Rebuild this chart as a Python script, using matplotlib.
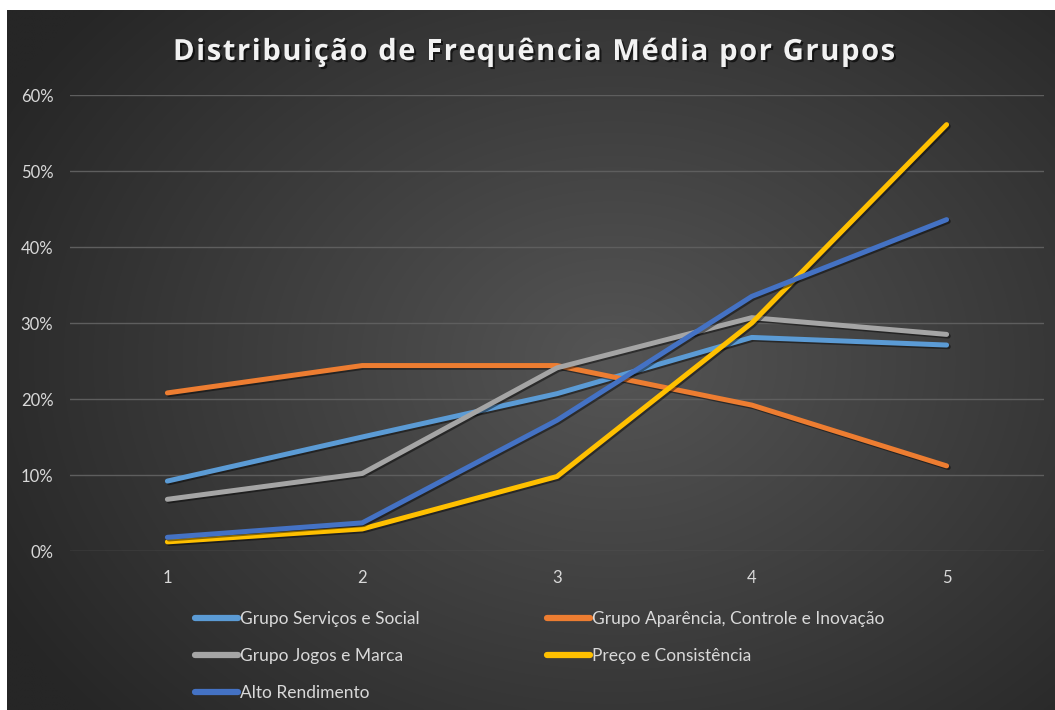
import numpy as np
import matplotlib
matplotlib.use('Agg')
import matplotlib.pyplot as plt
import matplotlib.patheffects as pe

plt.rcParams['font.family'] = ['Lato', 'DejaVu Sans']

# ------------------------------------------------------------
# Data
# ------------------------------------------------------------
categories = [1, 2, 3, 4, 5]
servicos = [0.092, 0.150, 0.207, 0.281, 0.271]
aparencia = [0.208, 0.244, 0.244, 0.192, 0.112]
jogos = [0.068, 0.102, 0.241, 0.307, 0.285]
preco = [0.012, 0.029, 0.098, 0.300, 0.561]
alto = [0.018, 0.037, 0.172, 0.335, 0.436]

series = [
    ('Grupo Serviços e Social', servicos, '#5B9BD5'),
    ('Grupo Aparência, Controle e Inovação', aparencia, '#ED7D31'),
    ('Grupo Jogos e Marca', jogos, '#A5A5A5'),
    ('Preço e Consistência', preco, '#FFC000'),
    ('Alto Rendimento', alto, '#4472C4'),
]
title = 'Distribuição de Frequência Média por Grupos'

W, H = 1055, 710
fig = plt.figure(figsize=(W / 100, H / 100), dpi=100)
fig.patch.set_facecolor('white')

# radial gradient background of the chart area
bg = fig.add_axes([7 / W, 0, 1 - 7 / W, 1 - 10 / H])
yy, xx = np.mgrid[0:300, 0:450]
cx, cy = 260, 150
d = np.sqrt(((xx - cx) / 300.0) ** 2 + ((yy - cy) / 230.0) ** 2)
d = np.clip(d, 0, 1)
c0 = np.array([0x55, 0x55, 0x55]) / 255.0
c1 = np.array([0x26, 0x26, 0x26]) / 255.0
img = c0[None, None, :] * (1 - d[..., None]) + c1[None, None, :] * d[..., None]
bg.imshow(img, aspect='auto', extent=[0, 1, 0, 1], interpolation='bilinear')
bg.set_axis_off()

# plot area
ax = fig.add_axes([70 / W, 159 / H, (1044 - 70) / W, (551 - 95) / H])
ax.set_facecolor('none')

handles = {}
for name, vals, col in series:
    ln, = ax.plot(categories, vals, color=col, lw=3.6, solid_capstyle='round',
                  solid_joinstyle='round', zorder=3,
                  path_effects=[pe.SimpleLineShadow(offset=(1.2, -1.2), shadow_color='black', alpha=0.45),
                                pe.Normal()])
    handles[name] = ln

ax.set_xlim(0.5, 5.5)
ax.set_ylim(0, 0.6)
ax.set_yticks(np.arange(0, 0.61, 0.1))
ax.set_yticklabels([f'{int(round(v * 100))}%' for v in np.arange(0, 0.61, 0.1)])
ax.set_xticks(categories)
ax.grid(axis='y', color='#5E5E5E', lw=1.0, zorder=0)
for s in ax.spines.values():
    s.set_visible(False)
ax.tick_params(axis='both', length=0, colors='#D9D9D9', labelsize=12)
ax.tick_params(axis='x', pad=14)
ax.tick_params(axis='y', pad=12)

# title with letter spacing (placed one character at a time)
renderer = fig.canvas.get_renderer()
tkw = dict(fontsize=21, fontweight='bold', family=['Open Sans', 'DejaVu Sans'])


def text_w(s):
    t = fig.text(0, 0, s + '|', **tkw)
    w = t.get_window_extent(renderer).width
    t.remove()
    return w


bar_w = text_w('')
offsets = [text_w(title[:i]) - bar_w for i in range(len(title) + 1)]
natural = offsets[-1]
target_w = 722
sp = (target_w - natural) / (len(title) - 1)
x0 = 534 - target_w / 2
shadow = [pe.withSimplePatchShadow(offset=(1.5, -1.5), shadow_rgbFace='black', alpha=0.6)]
for i, ch in enumerate(title):
    if ch == ' ':
        continue
    fig.text((x0 + offsets[i] + i * sp) / W, 1 - 49 / H, ch, ha='left', va='center_baseline',
             color='#F2F2F2', path_effects=shadow, **tkw)

# legend: column 1 = Serviços, Jogos, Alto; column 2 = Aparência, Preço
order = ['Grupo Serviços e Social', 'Grupo Jogos e Marca', 'Alto Rendimento',
         'Grupo Aparência, Controle e Inovação', 'Preço e Consistência']
leg = fig.legend([handles[n] for n in order], order, ncol=2, frameon=False,
                 loc='upper left', bbox_to_anchor=(195 / W, 1 - 611 / H),
                 borderpad=0, borderaxespad=0, handlelength=2.5, handletextpad=0.1,
                 columnspacing=7.3, labelspacing=1.2, fontsize=12.5, labelcolor='#D9D9D9')
for l in leg.get_lines():
    l.set_linewidth(4.5)
    l.set_path_effects([])

fig.savefig('out.png', dpi=100)
